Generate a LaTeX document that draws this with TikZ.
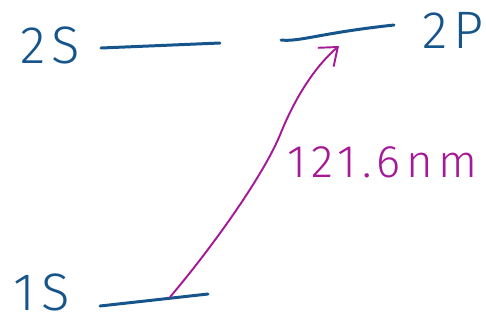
\documentclass[tikz,border=0pt]{standalone}
\usepackage{fontspec}
\setsansfont{Fira Sans Light}[LetterSpace=12]
\usepackage{tikz}
\usetikzlibrary{arrows.meta, positioning}
\definecolor{levelblue}{RGB}{22,84,140}
\definecolor{photonmag}{RGB}{165,25,150}
\tikzset{
  statelabel/.style={text=levelblue, font=\sffamily\fontsize{30}{34}\selectfont, inner sep=0pt},
  levelline/.style={draw=levelblue, line width=1.7pt, line cap=round},
  photon/.style={draw=photonmag, line width=1.1pt, line cap=round, -{Straight Barb[length=9pt, width=14pt, line width=1.1pt]}},
  photonlabel/.style={text=photonmag, font=\sffamily\fontsize{26}{30}\selectfont, inner sep=0pt}
}
\begin{document}
\begin{tikzpicture}[x=0.02cm, y=-0.02cm]
  \useasboundingbox (0,0) rectangle (486,326);
  % state labels
  \node[statelabel] (lab2s) at (50,45) {2S};
  \node[statelabel] (lab2p) at (453,30) {2P};
  \node[statelabel] (lab1s) at (42,292) {1S};
  % energy levels
  \coordinate (s2a) at (101,48);
  \coordinate (s2b) at (220,43);
  \coordinate (p2a) at (281,40);
  \coordinate (p2b) at (394,25);
  \coordinate (s1a) at (100,306);
  \coordinate (s1b) at (208,294);
  \draw[levelline] (s2a) -- (s2b);
  \draw[levelline] (p2a) .. controls (300,42) and (320,33) .. (p2b);
  \draw[levelline] (s1a) -- (s1b);
  % transition
  \coordinate (tfrom) at (170,297);
  \coordinate (tto) at (339,46);
  \draw[photon] (tfrom) .. controls (210,250) and (262,178) .. (280,135)
    .. controls (298,90) and (320,62) .. (tto);
  \node[photonlabel, anchor=west] (wavelen) at (287,162) {121.6nm};
\end{tikzpicture}
\end{document}
